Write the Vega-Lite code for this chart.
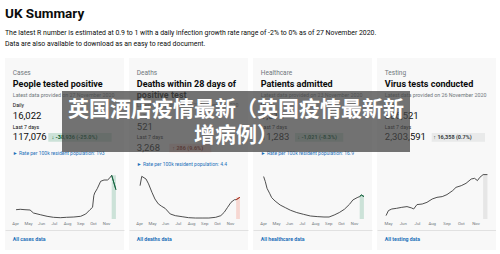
{
  "$schema": "https://vega.github.io/schema/vega-lite/v6.json",
  "background": "white",
  "padding": {"left": 5, "top": 6, "right": 0, "bottom": 0},
  "config": {"font": "Roboto", "view": {"stroke": null}},
  "title": {
    "text": "UK Summary",
    "subtitle": ["The latest R number is estimated at 0.9 to 1 with a daily infection growth rate range of -2% to 0% as of 27 November 2020.", "Data are also available to download as an easy to read document."],
    "anchor": "start", "frame": "group",
    "font": "Roboto", "fontSize": 13.5, "fontWeight": "bold", "color": "#0b0c0c",
    "subtitleFont": "Roboto", "subtitleFontSize": 6.9, "subtitleColor": "#0b0c0c", "subtitlePadding": 10, "subtitleLineHeight": 11,
    "offset": 11
  },
  "datasets": {
    "text": [
      {"card": "Cases", "item": "category", "col": "left", "text": "Cases"},
      {"card": "Cases", "item": "title", "col": "left", "text": "People tested positive"},
      {"card": "Cases", "item": "latest", "col": "left", "text": "Latest data provided on 27 November 2020"},
      {"card": "Cases", "item": "dailyLabel", "col": "left", "text": "Daily"},
      {"card": "Cases", "item": "dailyValue", "col": "left", "text": "16,022"},
      {"card": "Cases", "item": "weekLabel", "col": "left", "text": "Last 7 days"},
      {"card": "Cases", "item": "weekValue", "col": "left", "text": "117,076"},
      {"card": "Cases", "item": "weekValue", "col": "badge", "text": "↓ -38,936 (-25.0%)"},
      {"card": "Cases", "item": "rate", "col": "left", "text": "► Rate per 100k resident population: 193"},
      {"card": "Cases", "item": "link", "col": "left", "text": "All cases data"},
      {"card": "Deaths", "item": "category", "col": "left", "text": "Deaths"},
      {"card": "Deaths", "item": "title", "col": "left", "text": "Deaths within 28 days of"},
      {"card": "Deaths", "item": "title2", "col": "left", "text": "positive test"},
      {"card": "Deaths", "item": "latest", "col": "left", "text": "Latest data provided on 27 November 2020"},
      {"card": "Deaths", "item": "dailyLabel", "col": "left", "text": "Daily"},
      {"card": "Deaths", "item": "dailyValue", "col": "left", "text": "521"},
      {"card": "Deaths", "item": "weekLabel", "col": "left", "text": "Last 7 days"},
      {"card": "Deaths", "item": "weekValue", "col": "left", "text": "3,268"},
      {"card": "Deaths", "item": "weekValue", "col": "badge", "text": "↑ 286 (9.6%)"},
      {"card": "Deaths", "item": "rate", "col": "left", "text": "► Rate per 100k resident population: 4.4"},
      {"card": "Deaths", "item": "link", "col": "left", "text": "All deaths data"},
      {"card": "Healthcare", "item": "category", "col": "left", "text": "Healthcare"},
      {"card": "Healthcare", "item": "title", "col": "left", "text": "Patients admitted"},
      {"card": "Healthcare", "item": "latest", "col": "left", "text": "Latest data provided on 23 November 2020"},
      {"card": "Healthcare", "item": "dailyLabel", "col": "left", "text": "Daily"},
      {"card": "Healthcare", "item": "dailyValue", "col": "left", "text": "1,516"},
      {"card": "Healthcare", "item": "weekLabel", "col": "left", "text": "Last 7 days"},
      {"card": "Healthcare", "item": "weekValue", "col": "left", "text": "11,283"},
      {"card": "Healthcare", "item": "weekValue", "col": "badge", "text": "↓ -1,021 (-8.3%)"},
      {"card": "Healthcare", "item": "rate", "col": "left", "text": "► Rate per 100k resident population: 16.9"},
      {"card": "Healthcare", "item": "link", "col": "left", "text": "All healthcare data"},
      {"card": "Testing", "item": "category", "col": "left", "text": "Testing"},
      {"card": "Testing", "item": "title", "col": "left", "text": "Virus tests conducted"},
      {"card": "Testing", "item": "latest", "col": "left", "text": "Latest data provided on 26 November 2020"},
      {"card": "Testing", "item": "dailyLabel", "col": "left", "text": "Daily"},
      {"card": "Testing", "item": "dailyValue", "col": "left", "text": "386,521"},
      {"card": "Testing", "item": "weekLabel", "col": "left", "text": "Last 7 days"},
      {"card": "Testing", "item": "weekValue", "col": "left", "text": "2,303,591"},
      {"card": "Testing", "item": "weekValue", "col": "badge", "text": "↑ 16,358 (0.7%)"},
      {"card": "Testing", "item": "link", "col": "left", "text": "All testing data"}
    ],
    "series": [
      {"card": "Cases", "date": "2020-04-03", "value": 5580, "period": "earlier"},
      {"card": "Cases", "date": "2020-04-13", "value": 5820, "period": "earlier"},
      {"card": "Cases", "date": "2020-04-24", "value": 5580, "period": "earlier"},
      {"card": "Cases", "date": "2020-05-06", "value": 5400, "period": "earlier"},
      {"card": "Cases", "date": "2020-05-14", "value": 3600, "period": "earlier"},
      {"card": "Cases", "date": "2020-05-30", "value": 2580, "period": "earlier"},
      {"card": "Cases", "date": "2020-06-15", "value": 1620, "period": "earlier"},
      {"card": "Cases", "date": "2020-06-30", "value": 1020, "period": "earlier"},
      {"card": "Cases", "date": "2020-07-16", "value": 780, "period": "earlier"},
      {"card": "Cases", "date": "2020-07-31", "value": 1020, "period": "earlier"},
      {"card": "Cases", "date": "2020-08-17", "value": 1200, "period": "earlier"},
      {"card": "Cases", "date": "2020-09-02", "value": 1620, "period": "earlier"},
      {"card": "Cases", "date": "2020-09-14", "value": 3000, "period": "earlier"},
      {"card": "Cases", "date": "2020-09-24", "value": 5580, "period": "earlier"},
      {"card": "Cases", "date": "2020-09-30", "value": 7020, "period": "earlier"},
      {"card": "Cases", "date": "2020-10-03", "value": 14000, "period": "earlier"},
      {"card": "Cases", "date": "2020-10-05", "value": 15600, "period": "earlier"},
      {"card": "Cases", "date": "2020-10-11", "value": 18180, "period": "earlier"},
      {"card": "Cases", "date": "2020-10-19", "value": 22620, "period": "earlier"},
      {"card": "Cases", "date": "2020-10-27", "value": 23400, "period": "earlier"},
      {"card": "Cases", "date": "2020-11-04", "value": 23400, "period": "earlier"},
      {"card": "Cases", "date": "2020-11-08", "value": 24180, "period": "earlier"},
      {"card": "Cases", "date": "2020-11-14", "value": 26220, "period": "last7"},
      {"card": "Cases", "date": "2020-11-24", "value": 17580, "period": "last7"},
      {"card": "Deaths", "date": "2020-04-03", "value": 750, "period": "earlier"},
      {"card": "Deaths", "date": "2020-04-07", "value": 960, "period": "earlier"},
      {"card": "Deaths", "date": "2020-04-17", "value": 900, "period": "earlier"},
      {"card": "Deaths", "date": "2020-04-23", "value": 790, "period": "earlier"},
      {"card": "Deaths", "date": "2020-05-01", "value": 600, "period": "earlier"},
      {"card": "Deaths", "date": "2020-05-08", "value": 450, "period": "earlier"},
      {"card": "Deaths", "date": "2020-05-16", "value": 340, "period": "earlier"},
      {"card": "Deaths", "date": "2020-05-24", "value": 285, "period": "earlier"},
      {"card": "Deaths", "date": "2020-06-01", "value": 240, "period": "earlier"},
      {"card": "Deaths", "date": "2020-06-13", "value": 113, "period": "earlier"},
      {"card": "Deaths", "date": "2020-06-25", "value": 75, "period": "earlier"},
      {"card": "Deaths", "date": "2020-07-11", "value": 52, "period": "earlier"},
      {"card": "Deaths", "date": "2020-07-26", "value": 30, "period": "earlier"},
      {"card": "Deaths", "date": "2020-08-11", "value": 22, "period": "earlier"},
      {"card": "Deaths", "date": "2020-08-27", "value": 22, "period": "earlier"},
      {"card": "Deaths", "date": "2020-09-12", "value": 22, "period": "earlier"},
      {"card": "Deaths", "date": "2020-09-28", "value": 38, "period": "earlier"},
      {"card": "Deaths", "date": "2020-10-10", "value": 75, "period": "earlier"},
      {"card": "Deaths", "date": "2020-10-18", "value": 150, "period": "earlier"},
      {"card": "Deaths", "date": "2020-10-26", "value": 263, "period": "earlier"},
      {"card": "Deaths", "date": "2020-11-03", "value": 375, "period": "earlier"},
      {"card": "Deaths", "date": "2020-11-11", "value": 434, "period": "earlier"},
      {"card": "Deaths", "date": "2020-11-15", "value": 434, "period": "last7"},
      {"card": "Deaths", "date": "2020-11-24", "value": 488, "period": "last7"},
      {"card": "Healthcare", "date": "2020-04-02", "value": 3100, "period": "earlier"},
      {"card": "Healthcare", "date": "2020-04-06", "value": 2730, "period": "earlier"},
      {"card": "Healthcare", "date": "2020-04-10", "value": 2240, "period": "earlier"},
      {"card": "Healthcare", "date": "2020-04-16", "value": 1880, "period": "earlier"},
      {"card": "Healthcare", "date": "2020-04-21", "value": 1560, "period": "earlier"},
      {"card": "Healthcare", "date": "2020-04-29", "value": 1310, "period": "earlier"},
      {"card": "Healthcare", "date": "2020-05-11", "value": 1020, "period": "earlier"},
      {"card": "Healthcare", "date": "2020-05-23", "value": 830, "period": "earlier"},
      {"card": "Healthcare", "date": "2020-06-04", "value": 640, "period": "earlier"},
      {"card": "Healthcare", "date": "2020-06-19", "value": 470, "period": "earlier"},
      {"card": "Healthcare", "date": "2020-07-05", "value": 340, "period": "earlier"},
      {"card": "Healthcare", "date": "2020-07-21", "value": 220, "period": "earlier"},
      {"card": "Healthcare", "date": "2020-08-06", "value": 175, "period": "earlier"},
      {"card": "Healthcare", "date": "2020-08-22", "value": 145, "period": "earlier"},
      {"card": "Healthcare", "date": "2020-09-03", "value": 145, "period": "earlier"},
      {"card": "Healthcare", "date": "2020-09-15", "value": 290, "period": "earlier"},
      {"card": "Healthcare", "date": "2020-09-27", "value": 470, "period": "earlier"},
      {"card": "Healthcare", "date": "2020-10-09", "value": 710, "period": "earlier"},
      {"card": "Healthcare", "date": "2020-10-21", "value": 1070, "period": "earlier"},
      {"card": "Healthcare", "date": "2020-10-29", "value": 1390, "period": "earlier"},
      {"card": "Healthcare", "date": "2020-11-08", "value": 1560, "period": "earlier"},
      {"card": "Healthcare", "date": "2020-11-14", "value": 1640, "period": "last7"},
      {"card": "Healthcare", "date": "2020-11-18", "value": 1750, "period": "last7"},
      {"card": "Healthcare", "date": "2020-11-24", "value": 1640, "period": "last7"},
      {"card": "Testing", "date": "2020-04-27", "value": 25500, "period": "earlier"},
      {"card": "Testing", "date": "2020-05-02", "value": 63000, "period": "earlier"},
      {"card": "Testing", "date": "2020-05-09", "value": 75000, "period": "earlier"},
      {"card": "Testing", "date": "2020-05-19", "value": 80000, "period": "earlier"},
      {"card": "Testing", "date": "2020-05-30", "value": 87500, "period": "earlier"},
      {"card": "Testing", "date": "2020-06-10", "value": 93000, "period": "earlier"},
      {"card": "Testing", "date": "2020-06-20", "value": 82500, "period": "earlier"},
      {"card": "Testing", "date": "2020-06-24", "value": 75000, "period": "earlier"},
      {"card": "Testing", "date": "2020-07-01", "value": 108000, "period": "earlier"},
      {"card": "Testing", "date": "2020-07-12", "value": 112500, "period": "earlier"},
      {"card": "Testing", "date": "2020-07-22", "value": 125000, "period": "earlier"},
      {"card": "Testing", "date": "2020-08-02", "value": 150000, "period": "earlier"},
      {"card": "Testing", "date": "2020-08-12", "value": 162500, "period": "earlier"},
      {"card": "Testing", "date": "2020-08-23", "value": 168000, "period": "earlier"},
      {"card": "Testing", "date": "2020-09-02", "value": 183000, "period": "earlier"},
      {"card": "Testing", "date": "2020-09-14", "value": 213000, "period": "earlier"},
      {"card": "Testing", "date": "2020-09-21", "value": 237500, "period": "earlier"},
      {"card": "Testing", "date": "2020-10-02", "value": 250000, "period": "earlier"},
      {"card": "Testing", "date": "2020-10-12", "value": 267500, "period": "earlier"},
      {"card": "Testing", "date": "2020-10-23", "value": 300000, "period": "earlier"},
      {"card": "Testing", "date": "2020-10-30", "value": 305000, "period": "earlier"},
      {"card": "Testing", "date": "2020-11-05", "value": 288000, "period": "earlier"},
      {"card": "Testing", "date": "2020-11-10", "value": 312500, "period": "earlier"},
      {"card": "Testing", "date": "2020-11-17", "value": 333000, "period": "last7"},
      {"card": "Testing", "date": "2020-11-26", "value": 333000, "period": "last7"}
    ]
  },
  "spacing": 5,
  "hconcat": [
    {
      "width": 119, "height": 192,
      "view": {"fill": "#f8f8f8", "stroke": null},
      "resolve": {"scale": {"x": "independent", "y": "independent"}},
      "layer": [
        {
          "data": {"name": "series"},
          "transform": [{"filter": "datum.card == 'Cases'"}],
          "encoding": {
            "x": {"field": "date", "type": "temporal", "scale": {"domain": [{"year": 2020, "month": 3, "date": 8}, {"year": 2020, "month": 12, "date": 13}]},
              "axis": {"title": null, "format": "%b", "offset": -20, "domain": true, "domainColor": "#dadada", "domainWidth": 0.8, "ticks": false, "grid": false, "labelPadding": -8.5, "labelFontSize": 4.3, "labelColor": "#6f777b", "labelOverlap": false, "labelFlush": false,
                "values": [{"year": 2020, "month": 4, "date": 1}, {"year": 2020, "month": 5, "date": 1}, {"year": 2020, "month": 6, "date": 1}, {"year": 2020, "month": 7, "date": 1}, {"year": 2020, "month": 8, "date": 1}, {"year": 2020, "month": 9, "date": 1}, {"year": 2020, "month": 10, "date": 1}, {"year": 2020, "month": 11, "date": 1}]}},
            "y": {"field": "value", "type": "quantitative", "scale": {"domain": [0, 33600], "range": [161, 105], "nice": false}, "axis": null}
          },
          "layer": [
            {"transform": [{"filter": "datum.period == 'last7'"}, {"aggregate": [{"op": "min", "field": "date", "as": "start"}, {"op": "max", "field": "date", "as": "end"}, {"op": "max", "field": "value", "as": "top"}]}],
             "mark": {"type": "rect", "color": "#cce2d8"},
             "encoding": {"x": {"field": "start", "type": "temporal", "title": null}, "x2": {"field": "end"}, "y": {"field": "top", "type": "quantitative", "title": null}, "y2": {"datum": 0}}},
            {"mark": {"type": "line", "color": "#3b3b3b", "strokeWidth": 0.9}},
            {"transform": [{"filter": "datum.period == 'last7'"}], "mark": {"type": "line", "color": "#00703c", "strokeWidth": 0.9}}
          ]
        },
        {
          "data": {"name": "text"},
          "transform": [{"filter": "datum.card == 'Cases'"}],
          "encoding": {
            "x": {"field": "col", "type": "nominal", "axis": null, "scale": {"type": "point", "domain": ["left", "badge"], "range": [7.8, 46.5], "padding": 0}},
            "y": {"field": "item", "type": "nominal", "axis": null, "scale": {"type": "point", "padding": 0, "range": [15.3, 180.7], "domain": ["category", "s1", "title", "s3", "latest", "s5", "dailyLabel", "s7", "dailyValue", "s9", "weekLabel", "s11", "weekValue", "s13", "s14", "rate", "s16", "s17", "s18", "s19", "s20", "s21", "s22", "s23", "s24", "s25", "s26", "s27", "s28", "s29", "s30", "link"]}},
            "text": {"field": "text"}
          },
          "layer": [
            {"transform": [{"filter": "datum.item == 'category'"}], "mark": {"type": "text", "align": "left", "baseline": "middle", "fontSize": 6.5, "color": "#6f777b"}},
            {"transform": [{"filter": "datum.item == 'title' || datum.item == 'title2'"}], "mark": {"type": "text", "align": "left", "baseline": "middle", "fontSize": 9, "fontWeight": "bold", "color": "#0b0c0c"}},
            {"transform": [{"filter": "datum.item == 'latest'"}], "mark": {"type": "text", "align": "left", "baseline": "middle", "fontSize": 5.3, "color": "#6f777b"}},
            {"transform": [{"filter": "datum.item == 'dailyLabel' || datum.item == 'weekLabel'"}], "mark": {"type": "text", "align": "left", "baseline": "middle", "fontSize": 5.2, "color": "#0b0c0c"}},
            {"transform": [{"filter": "(datum.item == 'dailyValue' || datum.item == 'weekValue') && datum.col == 'left'"}], "mark": {"type": "text", "align": "left", "baseline": "middle", "fontSize": 9.5, "color": "#0b0c0c"}},
            {"transform": [{"filter": "datum.col == 'badge'"}], "mark": {"type": "point", "shape": "M-0.1,-0.135H1.881V0.135H-0.1Z", "size": 4096, "filled": true, "opacity": 1, "strokeWidth": 0, "color": "#cce2d8"}},
            {"transform": [{"filter": "datum.col == 'badge'"}], "mark": {"type": "text", "align": "left", "baseline": "middle", "fontSize": 5.5, "fontWeight": "bold", "color": "#005a30"}},
            {"transform": [{"filter": "datum.item == 'rate'"}], "mark": {"type": "text", "align": "left", "baseline": "middle", "fontSize": 5, "color": "#1d70b8"}},
            {"transform": [{"filter": "datum.item == 'link'"}], "mark": {"type": "text", "align": "left", "baseline": "middle", "fontSize": 5.2, "fontWeight": "bold", "color": "#1d70b8"}}
          ]
        }
      ]
    },
    {
      "width": 119, "height": 192,
      "view": {"fill": "#f8f8f8", "stroke": null},
      "resolve": {"scale": {"x": "independent", "y": "independent"}},
      "layer": [
        {
          "data": {"name": "series"},
          "transform": [{"filter": "datum.card == 'Deaths'"}],
          "encoding": {
            "x": {"field": "date", "type": "temporal", "scale": {"domain": [{"year": 2020, "month": 3, "date": 8}, {"year": 2020, "month": 12, "date": 13}]},
              "axis": {"title": null, "format": "%b", "offset": -20, "domain": true, "domainColor": "#dadada", "domainWidth": 0.8, "ticks": false, "grid": false, "labelPadding": -8.5, "labelFontSize": 4.3, "labelColor": "#6f777b", "labelOverlap": false, "labelFlush": false,
                "values": [{"year": 2020, "month": 4, "date": 1}, {"year": 2020, "month": 5, "date": 1}, {"year": 2020, "month": 6, "date": 1}, {"year": 2020, "month": 7, "date": 1}, {"year": 2020, "month": 8, "date": 1}, {"year": 2020, "month": 9, "date": 1}, {"year": 2020, "month": 10, "date": 1}, {"year": 2020, "month": 11, "date": 1}]}},
            "y": {"field": "value", "type": "quantitative", "scale": {"domain": [0, 1260], "range": [161, 105], "nice": false}, "axis": null}
          },
          "layer": [
            {"transform": [{"filter": "datum.period == 'last7'"}, {"aggregate": [{"op": "min", "field": "date", "as": "start"}, {"op": "max", "field": "date", "as": "end"}, {"op": "max", "field": "value", "as": "top"}]}],
             "mark": {"type": "rect", "color": "#f6d7d2"},
             "encoding": {"x": {"field": "start", "type": "temporal", "title": null}, "x2": {"field": "end"}, "y": {"field": "top", "type": "quantitative", "title": null}, "y2": {"datum": 0}}},
            {"mark": {"type": "line", "color": "#3b3b3b", "strokeWidth": 0.9}},
            {"transform": [{"filter": "datum.period == 'last7'"}], "mark": {"type": "line", "color": "#d4351c", "strokeWidth": 0.9}}
          ]
        },
        {
          "data": {"name": "text"},
          "transform": [{"filter": "datum.card == 'Deaths'"}],
          "encoding": {
            "x": {"field": "col", "type": "nominal", "axis": null, "scale": {"type": "point", "domain": ["left", "badge"], "range": [7.8, 43.3], "padding": 0}},
            "y": {"field": "item", "type": "nominal", "axis": null, "scale": {"type": "point", "padding": 0, "range": [15.3, 180.7], "domain": ["category", "s1", "title", "s3", "title2", "s5", "latest", "s7", "dailyLabel", "s9", "dailyValue", "s11", "weekLabel", "s13", "weekValue", "s15", "s16", "rate", "s18", "s19", "s20", "s21", "s22", "s23", "s24", "s25", "s26", "s27", "s28", "s29", "s30", "link"]}},
            "text": {"field": "text"}
          },
          "layer": [
            {"transform": [{"filter": "datum.item == 'category'"}], "mark": {"type": "text", "align": "left", "baseline": "middle", "fontSize": 6.5, "color": "#6f777b"}},
            {"transform": [{"filter": "datum.item == 'title' || datum.item == 'title2'"}], "mark": {"type": "text", "align": "left", "baseline": "middle", "fontSize": 9, "fontWeight": "bold", "color": "#0b0c0c"}},
            {"transform": [{"filter": "datum.item == 'latest'"}], "mark": {"type": "text", "align": "left", "baseline": "middle", "fontSize": 5.3, "color": "#6f777b"}},
            {"transform": [{"filter": "datum.item == 'dailyLabel' || datum.item == 'weekLabel'"}], "mark": {"type": "text", "align": "left", "baseline": "middle", "fontSize": 5.2, "color": "#0b0c0c"}},
            {"transform": [{"filter": "(datum.item == 'dailyValue' || datum.item == 'weekValue') && datum.col == 'left'"}], "mark": {"type": "text", "align": "left", "baseline": "middle", "fontSize": 9.5, "color": "#0b0c0c"}},
            {"transform": [{"filter": "datum.col == 'badge'"}], "mark": {"type": "point", "shape": "M-0.094,-0.135H1.219V0.135H-0.094Z", "size": 4096, "filled": true, "opacity": 1, "strokeWidth": 0, "color": "#f6d7d2"}},
            {"transform": [{"filter": "datum.col == 'badge'"}], "mark": {"type": "text", "align": "left", "baseline": "middle", "fontSize": 5.5, "fontWeight": "bold", "color": "#942514"}},
            {"transform": [{"filter": "datum.item == 'rate'"}], "mark": {"type": "text", "align": "left", "baseline": "middle", "fontSize": 5, "color": "#1d70b8"}},
            {"transform": [{"filter": "datum.item == 'link'"}], "mark": {"type": "text", "align": "left", "baseline": "middle", "fontSize": 5.2, "fontWeight": "bold", "color": "#1d70b8"}}
          ]
        }
      ]
    },
    {
      "width": 119, "height": 192,
      "view": {"fill": "#f8f8f8", "stroke": null},
      "resolve": {"scale": {"x": "independent", "y": "independent"}},
      "layer": [
        {
          "data": {"name": "series"},
          "transform": [{"filter": "datum.card == 'Healthcare'"}],
          "encoding": {
            "x": {"field": "date", "type": "temporal", "scale": {"domain": [{"year": 2020, "month": 3, "date": 8}, {"year": 2020, "month": 12, "date": 13}]},
              "axis": {"title": null, "format": "%b", "offset": -20, "domain": true, "domainColor": "#dadada", "domainWidth": 0.8, "ticks": false, "grid": false, "labelPadding": -8.5, "labelFontSize": 4.3, "labelColor": "#6f777b", "labelOverlap": false, "labelFlush": false,
                "values": [{"year": 2020, "month": 4, "date": 1}, {"year": 2020, "month": 5, "date": 1}, {"year": 2020, "month": 6, "date": 1}, {"year": 2020, "month": 7, "date": 1}, {"year": 2020, "month": 8, "date": 1}, {"year": 2020, "month": 9, "date": 1}, {"year": 2020, "month": 10, "date": 1}, {"year": 2020, "month": 11, "date": 1}]}},
            "y": {"field": "value", "type": "quantitative", "scale": {"domain": [0, 4088], "range": [161, 105], "nice": false}, "axis": null}
          },
          "layer": [
            {"transform": [{"filter": "datum.period == 'last7'"}, {"aggregate": [{"op": "min", "field": "date", "as": "start"}, {"op": "max", "field": "date", "as": "end"}, {"op": "max", "field": "value", "as": "top"}]}],
             "mark": {"type": "rect", "color": "#cce2d8"},
             "encoding": {"x": {"field": "start", "type": "temporal", "title": null}, "x2": {"field": "end"}, "y": {"field": "top", "type": "quantitative", "title": null}, "y2": {"datum": 0}}},
            {"mark": {"type": "line", "color": "#3b3b3b", "strokeWidth": 0.9}},
            {"transform": [{"filter": "datum.period == 'last7'"}], "mark": {"type": "line", "color": "#00703c", "strokeWidth": 0.9}}
          ]
        },
        {
          "data": {"name": "text"},
          "transform": [{"filter": "datum.card == 'Healthcare'"}],
          "encoding": {
            "x": {"field": "col", "type": "nominal", "axis": null, "scale": {"type": "point", "domain": ["left", "badge"], "range": [7.8, 44.3], "padding": 0}},
            "y": {"field": "item", "type": "nominal", "axis": null, "scale": {"type": "point", "padding": 0, "range": [15.3, 180.7], "domain": ["category", "s1", "title", "s3", "latest", "s5", "dailyLabel", "s7", "dailyValue", "s9", "weekLabel", "s11", "weekValue", "s13", "s14", "rate", "s16", "s17", "s18", "s19", "s20", "s21", "s22", "s23", "s24", "s25", "s26", "s27", "s28", "s29", "s30", "link"]}},
            "text": {"field": "text"}
          },
          "layer": [
            {"transform": [{"filter": "datum.item == 'category'"}], "mark": {"type": "text", "align": "left", "baseline": "middle", "fontSize": 6.5, "color": "#6f777b"}},
            {"transform": [{"filter": "datum.item == 'title' || datum.item == 'title2'"}], "mark": {"type": "text", "align": "left", "baseline": "middle", "fontSize": 9, "fontWeight": "bold", "color": "#0b0c0c"}},
            {"transform": [{"filter": "datum.item == 'latest'"}], "mark": {"type": "text", "align": "left", "baseline": "middle", "fontSize": 5.3, "color": "#6f777b"}},
            {"transform": [{"filter": "datum.item == 'dailyLabel' || datum.item == 'weekLabel'"}], "mark": {"type": "text", "align": "left", "baseline": "middle", "fontSize": 5.2, "color": "#0b0c0c"}},
            {"transform": [{"filter": "(datum.item == 'dailyValue' || datum.item == 'weekValue') && datum.col == 'left'"}], "mark": {"type": "text", "align": "left", "baseline": "middle", "fontSize": 9.5, "color": "#0b0c0c"}},
            {"transform": [{"filter": "datum.col == 'badge'"}], "mark": {"type": "point", "shape": "M-0.072,-0.135H1.438V0.135H-0.072Z", "size": 4096, "filled": true, "opacity": 1, "strokeWidth": 0, "color": "#cce2d8"}},
            {"transform": [{"filter": "datum.col == 'badge'"}], "mark": {"type": "text", "align": "left", "baseline": "middle", "fontSize": 5.5, "fontWeight": "bold", "color": "#005a30"}},
            {"transform": [{"filter": "datum.item == 'rate'"}], "mark": {"type": "text", "align": "left", "baseline": "middle", "fontSize": 5, "color": "#1d70b8"}},
            {"transform": [{"filter": "datum.item == 'link'"}], "mark": {"type": "text", "align": "left", "baseline": "middle", "fontSize": 5.2, "fontWeight": "bold", "color": "#1d70b8"}}
          ]
        }
      ]
    },
    {
      "width": 119, "height": 192,
      "view": {"fill": "#f8f8f8", "stroke": null},
      "resolve": {"scale": {"x": "independent", "y": "independent"}},
      "layer": [
        {
          "data": {"name": "series"},
          "transform": [{"filter": "datum.card == 'Testing'"}],
          "encoding": {
            "x": {"field": "date", "type": "temporal", "scale": {"domain": [{"year": 2020, "month": 4, "date": 8}, {"year": 2020, "month": 12, "date": 14}]},
              "axis": {"title": null, "format": "%b", "offset": -20, "domain": true, "domainColor": "#dadada", "domainWidth": 0.8, "ticks": false, "grid": false, "labelPadding": -8.5, "labelFontSize": 4.3, "labelColor": "#6f777b", "labelOverlap": false, "labelFlush": false,
                "values": [{"year": 2020, "month": 5, "date": 1}, {"year": 2020, "month": 6, "date": 1}, {"year": 2020, "month": 7, "date": 1}, {"year": 2020, "month": 8, "date": 1}, {"year": 2020, "month": 9, "date": 1}, {"year": 2020, "month": 10, "date": 1}, {"year": 2020, "month": 11, "date": 1}]}},
            "y": {"field": "value", "type": "quantitative", "scale": {"domain": [0, 420000], "range": [161, 105], "nice": false}, "axis": null}
          },
          "layer": [
            {"transform": [{"filter": "datum.period == 'last7'"}, {"aggregate": [{"op": "min", "field": "date", "as": "start"}, {"op": "max", "field": "date", "as": "end"}, {"op": "max", "field": "value", "as": "top"}]}],
             "mark": {"type": "rect", "color": "#e6e6e6"},
             "encoding": {"x": {"field": "start", "type": "temporal", "title": null}, "x2": {"field": "end"}, "y": {"field": "top", "type": "quantitative", "title": null}, "y2": {"datum": 0}}},
            {"mark": {"type": "line", "color": "#3b3b3b", "strokeWidth": 0.9}}
          ]
        },
        {
          "data": {"name": "text"},
          "transform": [{"filter": "datum.card == 'Testing'"}],
          "encoding": {
            "x": {"field": "col", "type": "nominal", "axis": null, "scale": {"type": "point", "domain": ["left", "badge"], "range": [7.8, 56.3], "padding": 0}},
            "y": {"field": "item", "type": "nominal", "axis": null, "scale": {"type": "point", "padding": 0, "range": [15.3, 180.7], "domain": ["category", "s1", "title", "s3", "latest", "s5", "dailyLabel", "s7", "dailyValue", "s9", "weekLabel", "s11", "weekValue", "s13", "s14", "rate", "s16", "s17", "s18", "s19", "s20", "s21", "s22", "s23", "s24", "s25", "s26", "s27", "s28", "s29", "s30", "link"]}},
            "text": {"field": "text"}
          },
          "layer": [
            {"transform": [{"filter": "datum.item == 'category'"}], "mark": {"type": "text", "align": "left", "baseline": "middle", "fontSize": 6.5, "color": "#6f777b"}},
            {"transform": [{"filter": "datum.item == 'title' || datum.item == 'title2'"}], "mark": {"type": "text", "align": "left", "baseline": "middle", "fontSize": 9, "fontWeight": "bold", "color": "#0b0c0c"}},
            {"transform": [{"filter": "datum.item == 'latest'"}], "mark": {"type": "text", "align": "left", "baseline": "middle", "fontSize": 5.3, "color": "#6f777b"}},
            {"transform": [{"filter": "datum.item == 'dailyLabel' || datum.item == 'weekLabel'"}], "mark": {"type": "text", "align": "left", "baseline": "middle", "fontSize": 5.2, "color": "#0b0c0c"}},
            {"transform": [{"filter": "(datum.item == 'dailyValue' || datum.item == 'weekValue') && datum.col == 'left'"}], "mark": {"type": "text", "align": "left", "baseline": "middle", "fontSize": 9.5, "color": "#0b0c0c"}},
            {"transform": [{"filter": "datum.col == 'badge'"}], "mark": {"type": "point", "shape": "M-0.05,-0.135H1.616V0.135H-0.05Z", "size": 4096, "filled": true, "opacity": 1, "strokeWidth": 0, "color": "#e9eaea"}},
            {"transform": [{"filter": "datum.col == 'badge'"}], "mark": {"type": "text", "align": "left", "baseline": "middle", "fontSize": 5.5, "fontWeight": "bold", "color": "#383f43"}},
            {"transform": [{"filter": "datum.item == 'link'"}], "mark": {"type": "text", "align": "left", "baseline": "middle", "fontSize": 5.2, "fontWeight": "bold", "color": "#1d70b8"}}
          ]
        },
        {
          "data": {"values": [{"k": "overlay"}]},
          "mark": {"type": "point", "opacity": 0},
          "encoding": {
            "shape": {"field": "k", "type": "nominal", "legend": {
              "title": ["英国酒店疫情最新（英国疫情最新新", "增病例）"],
              "orient": "none", "legendX": 57, "legendY": 33,
              "fillColor": "rgba(70,70,70,0.75)", "padding": 6, "cornerRadius": 0,
              "titleFont": "Noto Sans CJK SC", "titleFontSize": 21, "titleFontWeight": "bold", "titleColor": "#ffffff",
              "titleAlign": "center", "titleAnchor": "middle", "titleBaseline": "line-top", "titleLimit": 1000, "titleLineHeight": 26, "titlePadding": -5,
              "labelExpr": "''", "labelFontSize": 1, "symbolSize": 0, "symbolOpacity": 0, "symbolStrokeWidth": 0, "rowPadding": 0
            }}
          }
        }
      ]
    }
  ]
}
